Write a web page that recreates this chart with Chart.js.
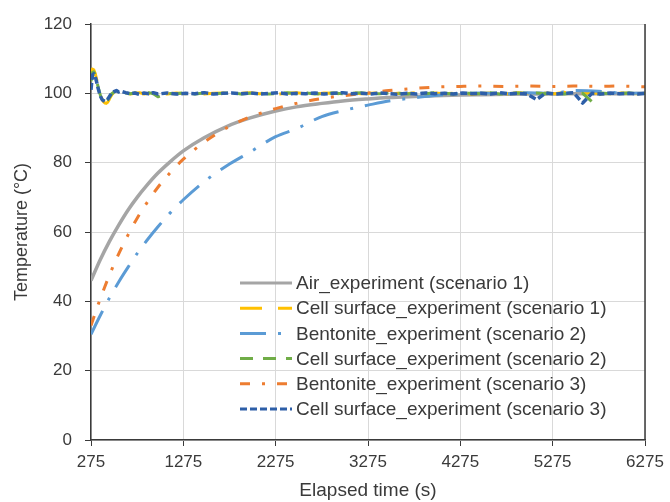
<!DOCTYPE html>
<html><head><meta charset="utf-8">
<script src="https://cdn.jsdelivr.net/npm/chart.js@4"></script>
<style>html,body{margin:0;padding:0;background:#fff}#wrap{width:670px;height:502px}</style>
</head><body><div id="wrap"><canvas id="c" width="670" height="502"></canvas></div>
<script>
// ---- tick labels ----
const xTicks = [275, 1275, 2275, 3275, 4275, 5275, 6275];
const yTicks = [0, 20, 40, 60, 80, 100, 120];

// ---- series names ----
const seriesNames = [
  'Air_experiment (scenario 1)',
  'Cell surface_experiment (scenario 1)',
  'Bentonite_experiment (scenario 2)',
  'Cell surface_experiment (scenario 2)',
  'Bentonite_experiment (scenario 3)',
  'Cell surface_experiment (scenario 3)'
];

// ---- smooth heating curves (time in s) ----
const curveTime = [275,375,475,575,675,775,875,1000,1125,1275,1500,1750,2000,2275,2500,2775,3000,3275,3500,3775,4000,4275,4500,4775,5000,5275,5500,5775,6000,6275];
const airExp1   = [46,52.0,57.3,62.0,66.3,70.0,73.3,77.0,80.1,83.4,87.2,90.5,92.9,94.9,96.1,97.1,97.8,98.4,98.8,99.1,99.3,99.5,99.6,99.7,99.8,99.8,99.9,99.9,99.9,100];
const bentExp2  = [30.5,35.9,41.0,45.6,49.8,53.8,57.4,61.5,65.3,69.3,74.5,79.2,83.1,87.5,89.8,93.3,95.0,96.6,97.8,98.7,99.4,99.9,100.1,99.9,100.2,100,100.8,100.6,100.1,100];
const bentExp3  = [33,40.7,47.6,53.7,59.1,64.0,68.2,72.9,76.9,81.0,85.9,90.1,93.2,95.6,97.1,98.5,99.3,100.1,100.8,101.4,101.8,102,102.1,102,102.1,102,102.1,102,102.1,101.9];

// ---- cell surface measurements (time in s) ----
const cellTime = [275,290,305,320,335,350,365,380,395,410,425,440,455,470,485,500,525,550,575,
  600,650,700,750,800,850,900,950,1000,
  1100,1200,1300,1400,1500,1600,1700,1800,1900,2000,
  2100,2200,2300,2400,2500,2600,2700,2800,2900,3000,
  3100,3200,3300,3400,3500,3600,3700,3800,3900,4000,
  4100,4200,4300,4400,4500,4600,4700,4800,4900,5000,
  5100,5200,5300,5400,5500,5600,5700,5800,5900,6000,
  6100,6200,6275];
const cellExp1 = [104.5,107,106.8,105.8,104.2,102.5,100.8,99.3,98.3,97.6,97.2,97.1,97.4,98.1,98.9,99.6,100.3,100.7,100.5,
  100.4,100.1,99.8,100,100.2,99.8,100,99.9,100.1,
  99.8,100.1,99.9,100.2,99.8,100,100.1,99.7,100,100.2,
  99.9,100.1,99.8,100,100.2,99.9,99.7,100.1,100,99.8,
  100.2,99.9,100,100.1,99.8,100,99.9,100.2,99.8,100.1,
  99.9,100,100.2,99.7,100,100.1,99.8,99.9,100.2,100,
  99.8,100.1,99.9,100.3,99.8,100,100.2,99.9,99.8,100.1,
  100,99.9,100];
const cellExp2 = [103.5,106,106.2,105.4,103.8,102.1,100.5,99.1,98.3,97.8,97.5,97.6,98,98.6,99.3,99.9,100.4,100.6,100.3,
  100.5,100.1,99.9,100.1,99.8,100,100.2,99.9,99.0,
  100,99.9,100.2,99.8,100.1,99.9,100,100.2,99.8,100,
  100.1,99.8,100,100.2,99.9,100.1,99.8,100,100.1,99.9,
  100,100.2,99.8,99.9,100.1,100,99.8,100.1,99.9,100.2,
  100,99.8,100.1,100,99.9,100.2,99.8,100,100.1,99.9,
  100.1,99.9,100,99.8,100.2,100,97.6,100.1,99.9,100,
  100.1,99.9,100];
const cellExp3 = [101,105.3,105.6,104.9,103.4,101.7,100.2,99,98.2,97.9,97.7,97.9,98.3,98.9,99.5,100.1,100.5,100.8,100.4,
  100.6,100.2,99.9,100.1,99.7,100.1,99.9,100.2,99.8,
  100.1,99.8,100,99.9,100.2,99.8,100,100.1,99.9,100.1,
  99.8,100,100.2,99.8,100,99.9,100.1,99.8,100,100.2,
  99.9,100,99.8,100.1,99.9,99.7,100,99.8,100.1,99.9,
  100,99.8,100.1,99.9,100,99.8,100.2,99.9,100,99.8,
  98.2,100.1,99.8,100,100.2,97.2,100,99.8,100.1,99.9,
  100,99.8,100];

const pts = (xs, ys) => xs.map((x, i) => ({x: x, y: ys[i]}));

const styles = [
  {color:'#a5a5a5', width:3.5, dash:[], smooth:true},
  {color:'#ffc000', width:3, dash:[22,16], smooth:false},
  {color:'#5b9bd5', width:3, dash:[26,12,3,12], smooth:true},
  {color:'#70ad47', width:3, dash:[13,10], smooth:false},
  {color:'#ed7d31', width:3, dash:[10,12,3,12], smooth:true},
  {color:'#2e5fa8', width:3.5, dash:[7,3], smooth:false}
];
const seriesData = [
  pts(curveTime, airExp1),
  pts(cellTime, cellExp1),
  pts(curveTime, bentExp2),
  pts(cellTime, cellExp2),
  pts(curveTime, bentExp3),
  pts(cellTime, cellExp3)
];

const datasets = seriesNames.map((n, i) => ({
  label: n,
  data: seriesData[i],
  borderColor: styles[i].color,
  backgroundColor: styles[i].color,
  borderWidth: styles[i].width,
  borderDash: styles[i].dash,
  pointRadius: 0,
  fill: false,
  tension: 0,
  cubicInterpolationMode: styles[i].smooth ? 'monotone' : 'default',
  borderJoinStyle: 'round',
  order: 5 - i
}));

const FONT = 'Liberation Sans, Arial, sans-serif';
const TXT = '#3a3a3a';

const extras = {
  id: 'extras',
  afterDraw(chart) {
    const {ctx, chartArea: ca} = chart;
    ctx.save();
    // right frame line
    ctx.strokeStyle = TXT; ctx.lineWidth = 1.5; ctx.setLineDash([]);
    ctx.beginPath(); ctx.moveTo(ca.right, ca.top); ctx.lineTo(ca.right, ca.bottom); ctx.stroke();
    // inside legend
    const x0 = ca.left + 149, x1 = x0 + 52, tx = x1 + 4;
    const y0 = ca.top + 259, dy = 25.2;
    ctx.font = '19px ' + FONT;
    ctx.textBaseline = 'middle';
    ctx.fillStyle = TXT;
    seriesNames.forEach((n, i) => {
      const y = y0 + i * dy;
      ctx.strokeStyle = styles[i].color;
      ctx.lineWidth = 3;
      ctx.setLineDash(styles[i].dash);
      ctx.beginPath(); ctx.moveTo(x0, y); ctx.lineTo(x1, y); ctx.stroke();
      ctx.setLineDash([]);
      ctx.fillText(n, tx, y + 1);
    });
    ctx.restore();
  }
};

new Chart(document.getElementById('c'), {
  type: 'line',
  data: {datasets: datasets},
  plugins: [extras],
  options: {
    responsive: false,
    animation: false,
    layout: {padding: {left: 0, right: 25, top: 24, bottom: 0}},
    plugins: {legend: {display: false}, tooltip: {enabled: false}},
    scales: {
      x: {
        type: 'linear', min: 275, max: 6275,
        afterBuildTicks: s => { s.ticks = xTicks.map(v => ({value: v})); },
        afterFit: s => { s.height = 62; },
        ticks: {color: TXT, font: {family: FONT, size: 17}, padding: 6, maxRotation: 0, autoSkip: false, callback: v => String(v)},
        grid: {color: '#d9d9d9', lineWidth: 1, tickColor: TXT, tickLength: 6, drawTicks: true},
        border: {color: TXT, width: 1.5},
        title: {display: true, text: 'Elapsed time (s)', color: TXT, font: {family: FONT, size: 19}, padding: {top: 0, bottom: 0}}
      },
      y: {
        min: 0, max: 120,
        afterBuildTicks: s => { s.ticks = yTicks.map(v => ({value: v})); },
        afterFit: s => { s.width = 91; },
        ticks: {color: TXT, font: {family: FONT, size: 17}, padding: 13, callback: v => String(v)},
        grid: {color: '#d9d9d9', lineWidth: 1, tickColor: TXT, tickLength: 6, drawTicks: true},
        border: {color: TXT, width: 1.5},
        title: {display: true, text: 'Temperature (°C)', color: TXT, font: {family: FONT, size: 18}, padding: {top: 11, bottom: 0}}
      }
    }
  }
});
</script>
</body></html>
